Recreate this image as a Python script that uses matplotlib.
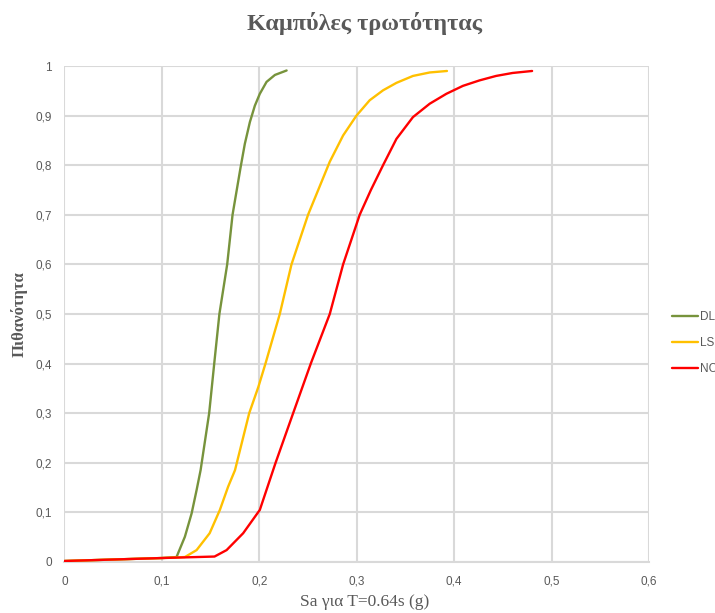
import matplotlib
matplotlib.use("Agg")
import matplotlib.pyplot as plt
from matplotlib.ticker import FuncFormatter, MultipleLocator

# ---- data ----
series_names = ["DL", "LS", "NC"]

dl_x = [0, 0.05, 0.10, 0.115, 0.1236, 0.1305, 0.1356, 0.1397, 0.1485, 0.1537, 0.159,
        0.167, 0.1725, 0.1807, 0.1851, 0.1903, 0.1954, 0.2005, 0.2074, 0.216, 0.228]
dl_y = [0.002, 0.005, 0.008, 0.010, 0.051, 0.098, 0.145, 0.185, 0.300, 0.400, 0.500,
        0.600, 0.700, 0.795, 0.843, 0.887, 0.920, 0.944, 0.968, 0.982, 0.991]

ls_x = [0, 0.05, 0.10, 0.1236, 0.1356, 0.149, 0.1595, 0.168, 0.175, 0.1896, 0.199,
        0.2063, 0.221, 0.233, 0.250, 0.2723, 0.286, 0.2997, 0.3133, 0.327, 0.3407,
        0.3577, 0.3749, 0.3926]
ls_y = [0.002, 0.005, 0.008, 0.010, 0.024, 0.058, 0.105, 0.152, 0.185, 0.300, 0.353,
        0.400, 0.500, 0.600, 0.700, 0.807, 0.860, 0.900, 0.931, 0.951, 0.966,
        0.980, 0.987, 0.990]

nc_x = [0, 0.05, 0.10, 0.154, 0.1664, 0.1834, 0.2005, 0.2165, 0.2347, 0.2528, 0.2723,
        0.286, 0.303, 0.3145, 0.327, 0.3407, 0.3577, 0.3749, 0.392, 0.409, 0.426,
        0.443, 0.460, 0.480]
nc_y = [0.002, 0.005, 0.008, 0.011, 0.024, 0.058, 0.105, 0.199, 0.300, 0.400, 0.500,
        0.600, 0.700, 0.750, 0.800, 0.853, 0.897, 0.924, 0.944, 0.960, 0.971,
        0.980, 0.986, 0.990]

series_colors = ["#77933C", "#FFC000", "#FF0000"]

title = "Καμπύλες τρωτότητας"
x_label = "Sa για T=0.64s (g)"
y_label = "Πιθανότητα"

# ---- figure ----
fig = plt.figure(figsize=(7.15, 6.13), dpi=100)
ax = fig.add_axes([0.0902, 0.0832, 0.8175, 0.8091])

xs = [dl_x, ls_x, nc_x]
ys = [dl_y, ls_y, nc_y]
for name, x, y, c in zip(series_names, xs, ys, series_colors):
    ax.plot(x, y, color=c, lw=1.7, label=name, solid_capstyle="round",
            solid_joinstyle="round", zorder=3)

ax.set_xlim(0, 0.6)
ax.set_ylim(0, 1)
ax.xaxis.set_major_locator(MultipleLocator(0.1))
ax.yaxis.set_major_locator(MultipleLocator(0.1))

def fmt(v, pos):
    s = f"{v:.1f}".replace(".", ",")
    if s.endswith(",0"):
        s = s[:-2]
    return s

ax.xaxis.set_major_formatter(FuncFormatter(fmt))
ax.yaxis.set_major_formatter(FuncFormatter(fmt))

ax.grid(True, color="#D9D9D9", lw=1.5, zorder=0)
ax.set_axisbelow(True)
for side in ["top", "right", "left"]:
    ax.spines[side].set_visible(False)
ax.spines["bottom"].set_color("#D9D9D9")
ax.spines["bottom"].set_linewidth(1.5)

ax.tick_params(length=0, colors="#595959", labelsize=8.5)
ax.tick_params(axis="x", pad=10)
ax.tick_params(axis="y", pad=9)
for lab in ax.get_xticklabels() + ax.get_yticklabels():
    lab.set_family(["Liberation Sans", "DejaVu Sans"])

fig.text(0.51, 0.962, title, ha="center", va="center", fontsize=17.5,
         fontweight="bold", color="#595959", family=["Liberation Serif", "DejaVu Serif"])
fig.text(0.51, 0.018, x_label, ha="center", va="center", fontsize=12.5,
         color="#595959", family=["Liberation Serif", "DejaVu Serif"])
fig.text(0.027, 0.488, y_label, ha="center", va="center", rotation=90, fontsize=12,
         fontweight="bold", color="#595959", family=["Liberation Serif", "DejaVu Serif"])

leg = fig.legend(loc="center left", bbox_to_anchor=(0.925, 0.440), frameon=False,
                 handlelength=2.2, handletextpad=0.15, labelspacing=1.18,
                 prop={"family": ["Liberation Sans", "DejaVu Sans"], "size": 8.5})
for t in leg.get_texts():
    t.set_color("#595959")

fig.savefig("out.png", dpi=100)
